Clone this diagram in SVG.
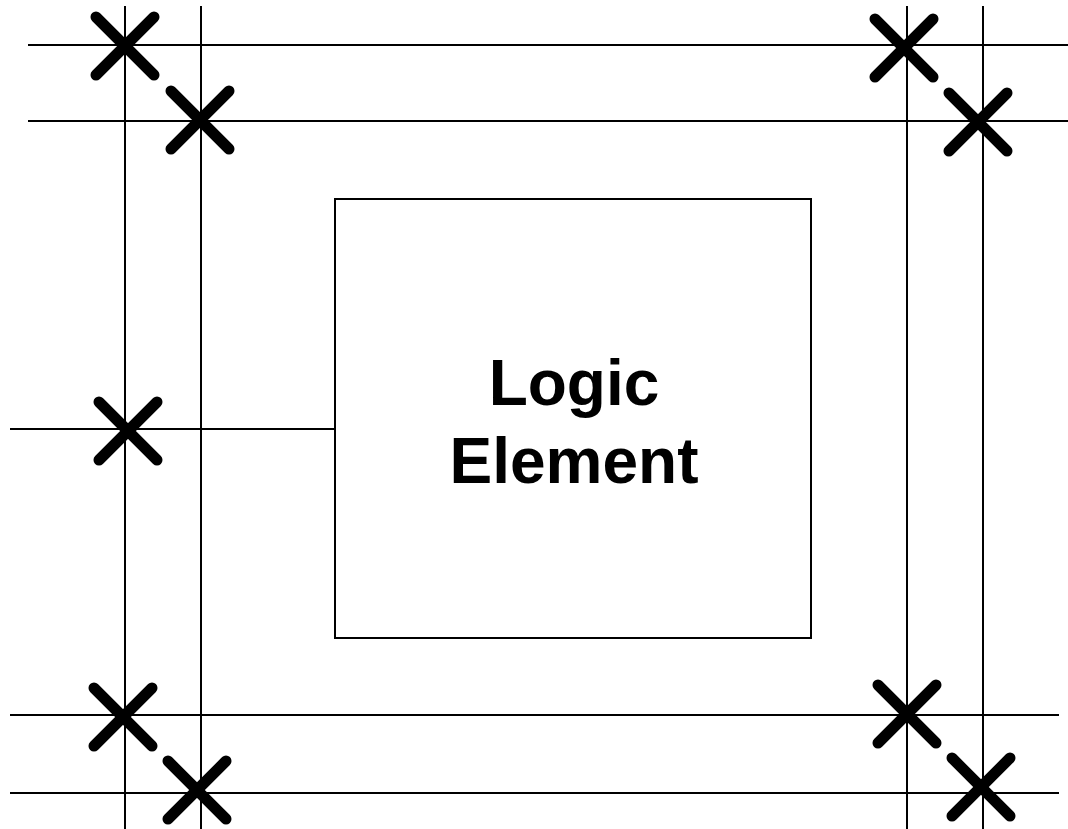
<svg xmlns="http://www.w3.org/2000/svg" width="1068" height="829" viewBox="0 0 1068 829">
  <defs>
    <style>
      .wire { stroke: #000; stroke-width: 2; fill: none; }
      .box { stroke: #000; stroke-width: 2; fill: #fff; }
      .cross { stroke: #000; stroke-width: 11; stroke-linecap: round; fill: none; }
      .label { font-family: "Liberation Sans", Arial, sans-serif; font-weight: bold; font-size: 64px; fill: #000; text-anchor: middle; }
    </style>
    <!-- programmable switch mark -->
    <g id="x-mark">
      <line class="cross" x1="-29" y1="-29" x2="29" y2="29"/>
      <line class="cross" x1="-29" y1="29" x2="29" y2="-29"/>
    </g>
  </defs>
  <rect width="1068" height="829" fill="#fff"/>

  <!-- routing wires -->
  <g id="wires">
    <line class="wire" x1="125" y1="6" x2="125" y2="829"/>
    <line class="wire" x1="201" y1="6" x2="201" y2="829"/>
    <line class="wire" x1="907" y1="6" x2="907" y2="829"/>
    <line class="wire" x1="983" y1="6" x2="983" y2="829"/>
    <line class="wire" x1="28" y1="45" x2="1068" y2="45"/>
    <line class="wire" x1="28" y1="121" x2="1068" y2="121"/>
    <line class="wire" x1="10" y1="715" x2="1059" y2="715"/>
    <line class="wire" x1="10" y1="793" x2="1059" y2="793"/>
    <line class="wire" x1="10" y1="429" x2="335" y2="429"/>
  </g>

  <!-- logic element block -->
  <g id="logic-element">
    <rect class="box" x="335" y="199" width="476" height="439"/>
    <text class="label" x="574" y="405">Logic</text>
    <text class="label" x="574" y="483">Element</text>
  </g>

  <!-- switch points -->
  <g id="switches">
    <use href="#x-mark" x="125" y="46"/>
    <use href="#x-mark" x="200" y="120"/>
    <use href="#x-mark" x="904" y="48"/>
    <use href="#x-mark" x="978" y="122"/>
    <use href="#x-mark" x="128" y="431"/>
    <use href="#x-mark" x="123" y="717"/>
    <use href="#x-mark" x="197" y="790"/>
    <use href="#x-mark" x="907" y="714"/>
    <use href="#x-mark" x="981" y="787"/>
  </g>
</svg>
